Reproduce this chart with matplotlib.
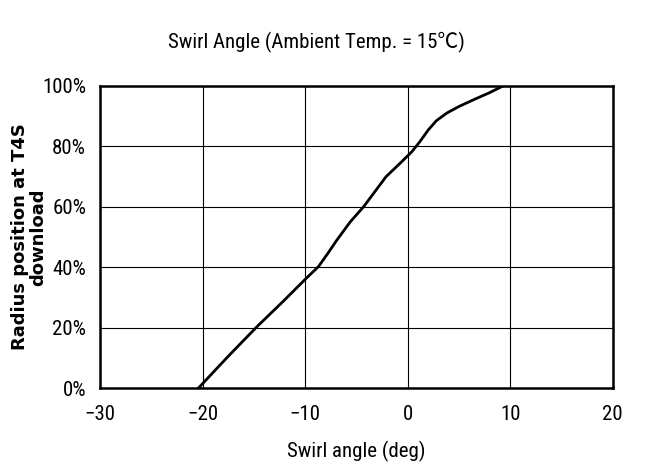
import matplotlib
matplotlib.use("Agg")
import matplotlib.pyplot as plt
from matplotlib.ticker import PercentFormatter

# Data
swirl_angle = [-20.4, -17.5, -14.7, -12.2, -9.9, -8.7, -7.8, -6.9, -5.6, -4.3, -3.2, -2.1,
               -0.8, 0.4, 1.2, 2.0, 2.8, 3.8, 5.0, 6.4, 8.0, 9.3]
radius_pos  = [0.0, 10.5, 20.3, 28.5, 36.3, 40.2, 44.5, 49.0, 55.0, 60.0, 65.0, 70.0,
               74.2, 78.2, 81.6, 85.4, 88.5, 91.0, 93.2, 95.4, 97.8, 100.0]

x_ticks = [-30, -20, -10, 0, 10, 20]
y_ticks = [0, 20, 40, 60, 80, 100]

NARROW = ["Roboto Condensed", "Noto Sans CJK JP", "DejaVu Sans"]

fig = plt.figure(figsize=(6.45, 4.75), dpi=100)
ax = fig.add_axes([0.155, 0.183, 0.795, 0.636])

ax.plot(swirl_angle, radius_pos, color="black", linewidth=2.0)

ax.set_xlim(-30, 20)
ax.set_ylim(0, 100)
ax.set_xticks(x_ticks)
ax.set_yticks(y_ticks)
ax.yaxis.set_major_formatter(PercentFormatter(decimals=0))
ax.grid(True, color="black", linewidth=0.8)
ax.tick_params(axis="x", length=0, pad=12, labelsize=15)
ax.tick_params(axis="y", length=0, pad=10, labelsize=15)
for lbl in ax.get_xticklabels() + ax.get_yticklabels():
    lbl.set_family(NARROW)
for side in ax.spines.values():
    side.set_linewidth(1.8)

ax.set_xlabel("Swirl angle (deg)", fontsize=15, labelpad=12, family=NARROW)
ax.set_ylabel("Radius position at T4S\ndownload", fontsize=13, fontweight="bold",
              family="DejaVu Sans", linespacing=1.0)
ax.yaxis.label.set_va("center")
ax.yaxis.set_label_coords(-0.138, 0.5)

fig.text(0.49, 0.91, "Swirl Angle (Ambient Temp. = 15\u2103)", ha="center", va="center",
         fontsize=15, family=NARROW)

fig.savefig("out.png", dpi=100)
